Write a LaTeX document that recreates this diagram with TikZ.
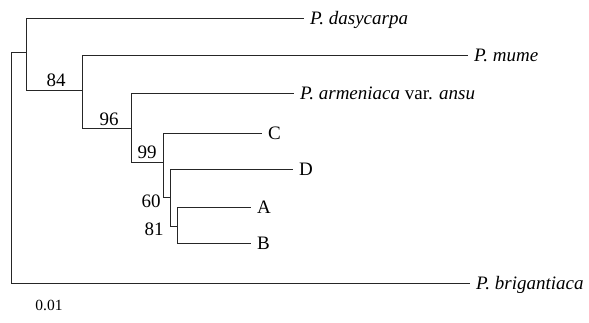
\documentclass[tikz,border=0pt]{standalone}
\usepackage{fontspec}
\setmainfont{Liberation Serif}
\begin{document}
\begin{tikzpicture}[x=1pt,y=-1pt,
  branch/.style={draw=black!85,line width=0.9pt},
  leaf/.style={anchor=west,inner xsep=6pt,inner ysep=0pt,text height=13pt,text depth=0pt,font=\fontsize{19}{19}\selectfont},
  boot/.style={anchor=base,inner sep=0pt,font=\fontsize{19}{19}\selectfont},
  scalelab/.style={anchor=base,inner sep=0pt,font=\fontsize{15.5}{15.5}\selectfont}]
\useasboundingbox (0,0) rectangle (589,323);

% internal nodes of the tree
\coordinate (root) at (11,170);
\coordinate (n1)   at (26,52);
\coordinate (n84)  at (82,90);
\coordinate (n96)  at (131,128);
\coordinate (n99)  at (163,162);
\coordinate (n60)  at (170,197);
\coordinate (n81)  at (177,226);

% terminal taxa
\node[leaf] (dasy) at (304,18)  {\textit{P. dasycarpa}};
\node[leaf] (mume) at (468,55)  {\textit{P. mume}};
\node[leaf] (arme) at (294,93)  {\textit{P. armeniaca} var. \textit{ansu}};
\node[leaf] (tC)   at (262,133) {C};
\node[leaf] (tD)   at (293,169) {D};
\node[leaf] (tA)   at (251,207) {A};
\node[leaf] (tB)   at (251,243) {B};
\node[leaf] (brig) at (470,283) {\textit{P. brigantiaca}};

% branches
\path[branch] (root) |- (n1);
\path[branch] (root) |- (brig.west);
\path[branch] (n1)   |- (dasy.west);
\path[branch] (n1)   |- (n84);
\path[branch] (n84)  |- (mume.west);
\path[branch] (n84)  |- (n96);
\path[branch] (n96)  |- (arme.west);
\path[branch] (n96)  |- (n99);
\path[branch] (n99)  |- (tC.west);
\path[branch] (n99)  |- (n60);
\path[branch] (n60)  |- (tD.west);
\path[branch] (n60)  |- (n81);
\path[branch] (n81)  |- (tA.west);
\path[branch] (n81)  |- (tB.west);

% bootstrap values
\node[boot] (b84) at (56,87)  {84};
\node[boot] (b96) at (109,126) {96};
\node[boot] (b99) at (147,159) {99};
\node[boot] (b60) at (151,208) {60};
\node[boot] (b81) at (154,236) {81};

% scale
\node[scalelab] (scale) at (49,310) {0.01};
\end{tikzpicture}
\end{document}
